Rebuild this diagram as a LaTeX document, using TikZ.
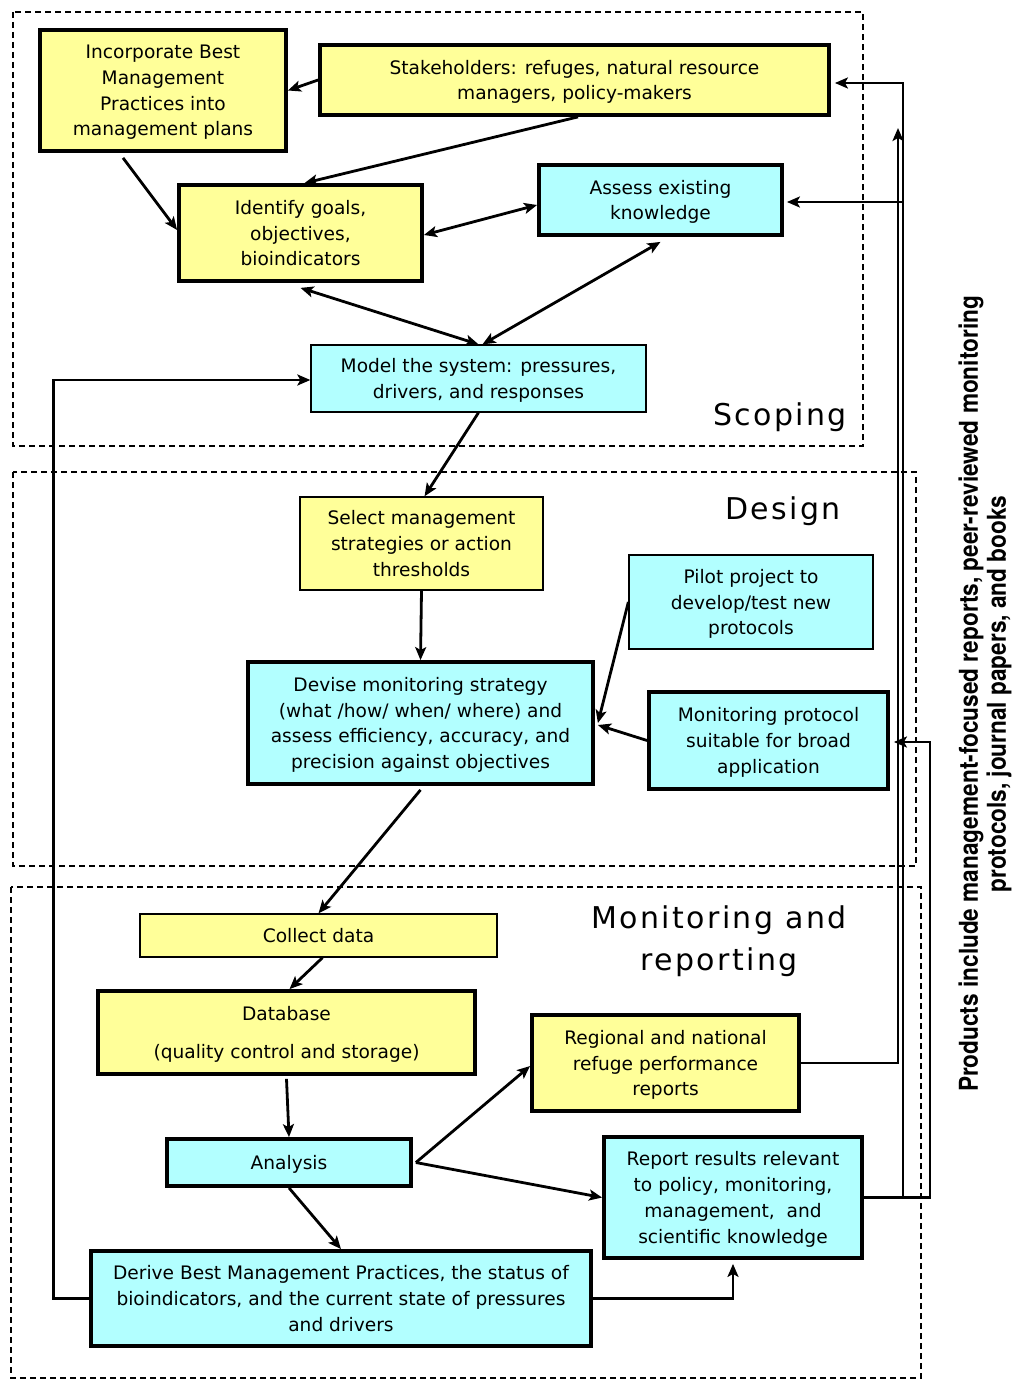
\documentclass[tikz,border=0pt]{standalone}
\usepackage{fontspec}
\setmainfont{DejaVu Sans}
\newfontfamily\condfont[FakeStretch=0.87]{TeX Gyre Heros}
\usetikzlibrary{arrows.meta}
\definecolor{boxyellow}{RGB}{255,255,153}
\definecolor{boxcyan}{RGB}{178,255,255}

\begin{document}
\begin{tikzpicture}[x=1pt,y=-1pt,
  font=\fontsize{18.6}{25.8}\selectfont,
  box/.style={draw,align=center,inner sep=2pt,text depth=-6pt},
  heavy/.style={box,line width=3.8pt},
  light/.style={box,line width=1.3pt},
  yel/.style={fill=boxyellow},
  cya/.style={fill=boxcyan},
  flow/.style={line width=2.8pt,-{Stealth[length=13pt,width=11pt,inset=3pt]}},
  both/.style={flow,{Stealth[length=13pt,width=11pt,inset=3pt]}-{Stealth[length=13pt,width=11pt,inset=3pt]}},
  stage/.style={draw,line width=1.8pt,dash pattern=on 6pt off 4pt},
  stagename/.style={font=\fontsize{30}{42}\selectfont\addfontfeature{LetterSpace=8},align=center}]

  \useasboundingbox (0,0) rectangle (1016,1380);

  % stage frames
  \draw[stage] (13,12) rectangle (863,446);
  \draw[stage] (13,472) rectangle (916,866);
  \draw[stage] (11,887) rectangle (921,1378);
  \node[stagename] (scoping) at (780,417) {Scoping};
  \node[stagename] (design) at (783,511) {Design};
  \node[stagename] (monrep) at (719,941) {Monitoring and\\reporting};

  % Scoping
  \node[heavy,yel,minimum width=246,minimum height=121] (inc) at (163,90.5)
    {Incorporate Best\\Management\\Practices into\\management plans};
  \node[heavy,yel,minimum width=509,minimum height=70] (stake) at (574.5,80)
    {Stakeholders: refuges, natural resource\\managers, policy-makers};
  \node[heavy,yel,minimum width=243,minimum height=96] (goals) at (300.5,233)
    {Identify goals,\\objectives,\\bioindicators};
  \node[heavy,cya,minimum width=243,minimum height=70] (assess) at (660.5,200)
    {Assess existing\\knowledge};
  \node[light,cya,minimum width=335,minimum height=67] (model) at (478.5,378.5)
    {Model the system: pressures,\\drivers, and responses};

  % Design
  \node[light,yel,minimum width=243,minimum height=93] (select) at (421.5,543.5)
    {Select management\\strategies or action\\thresholds};
  \node[light,cya,minimum width=244,minimum height=94] (pilot) at (751,602)
    {Pilot project to\\develop/test new\\protocols};
  \node[heavy,cya,minimum width=345,minimum height=122] (devise) at (420.5,723)
    {Devise monitoring strategy\\(what /how/ when/ where) and\\assess efficiency, accuracy, and\\precision against objectives};
  \node[heavy,cya,minimum width=239,minimum height=97] (protocol) at (768.5,740.5)
    {Monitoring protocol\\suitable for broad\\application};

  % Monitoring and reporting
  \node[light,yel,minimum width=357,minimum height=43] (collect) at (318.5,935.5)
    {Collect data};
  \node[heavy,yel,minimum width=377,minimum height=83] (database) at (286.5,1032.5)
    {Database\\[13pt](quality control and storage)};
  \node[heavy,yel,minimum width=267,minimum height=96] (regional) at (665.5,1063)
    {Regional and national\\refuge performance\\reports};
  \node[heavy,cya,minimum width=244,minimum height=47] (analysis) at (289,1162.5)
    {Analysis};
  \node[heavy,cya,minimum width=258,minimum height=121] (report) at (733,1197.5)
    {Report results relevant\\to policy, monitoring,\\management,\ \ and\\scientific knowledge};
  \node[heavy,cya,minimum width=500,minimum height=95] (derive) at (341,1298.5)
    {Derive Best Management Practices, the status of\\bioindicators, and the current state of pressures\\and drivers};

  % products
  \node[rotate=90,align=center,font=\condfont\bfseries\fontsize{26}{28}\selectfont] (products) at (985,694)
    {Products include management-focused reports, peer-reviewed monitoring\\protocols, journal papers, and books};

  \coordinate (regtop) at (898,128);
  \coordinate (bus) at (903,202);

  % connectors
  \draw[flow] (stake.west) -- (inc.east);
  \draw[flow] ([xshift=3.5pt]stake.south) -- ([xshift=4pt]goals.north);
  \draw[flow] ([xshift=-40pt,yshift=-5pt]inc.south) -- ([yshift=3pt]goals.west);
  \draw[both] ([yshift=-2pt]goals.east) -- ([yshift=-5pt]assess.west);
  \draw[both] ([yshift=-5pt]goals.south) -- (model.north);
  \draw[both] ([yshift=-5pt]assess.south) -- ([xshift=4pt]model.north);
  \draw[flow] (model.south) -- ([xshift=3pt]select.north);
  \draw[flow] (select.south) -- (devise.north);
  \draw[flow] (pilot.west) -- ([xshift=3pt]devise.east);
  \draw[flow] (protocol.west) -- ([xshift=3pt,yshift=-2pt]devise.east);
  \draw[flow] ([yshift=-4pt]devise.south) -- (collect.north);
  \draw[flow] ([xshift=4pt]collect.south) -- ([xshift=3pt]database.north);
  \draw[flow] ([yshift=-3pt]database.south) -- (analysis.north);
  \draw[flow] ([xshift=3pt]analysis.east) -- ([yshift=-3pt]regional.west);
  \draw[flow] ([xshift=3pt]analysis.east) -- (report.west);
  \draw[flow] (analysis.south) -- (derive.north);
  \draw[flow] (derive.east) -| ([yshift=-4pt]report.south);
  \draw[flow] (derive.west) -- ++(-36,0) |- ([yshift=-1.5pt]model.west);
  \draw[flow] (regional.east) -| (regtop);
  \draw[flow] (report.east) -| (bus) |- ([xshift=4pt,yshift=-3pt]stake.east);
  \draw[flow] (bus) -- ([xshift=3pt,yshift=-2pt]assess.east);
  \draw[flow] (report.east) -- ++(66,0) |- ([xshift=4pt,yshift=-1.5pt]protocol.east);
\end{tikzpicture}
\end{document}
